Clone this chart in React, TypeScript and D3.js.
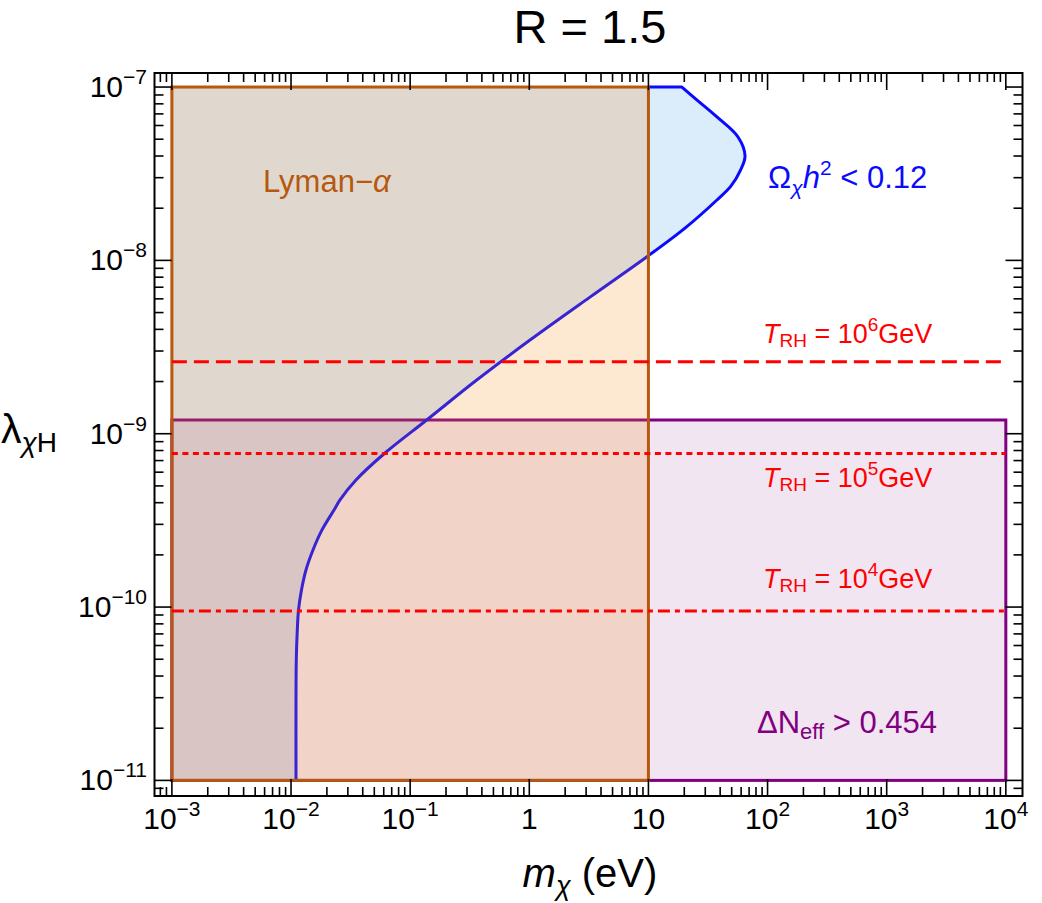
import * as d3 from "d3";

// relic-abundance contour: dark matter mass (eV) vs portal coupling
const relicMass = [
  0.01101, 0.01101, 0.01107, 0.01129, 0.01156, 0.01224, 0.01335, 0.01529,
  0.0182, 0.02296, 0.02577, 0.0351, 0.0615, 0.1377, 0.362, 1.014, 3.23, 9.92,
  20.4, 37.6, 49.4, 59.3, 64.7, 56.5, 37.6, 25.6, 19.1,
];
const relicLambda = [
  1e-11, 2.91e-11, 4.95e-11, 7.38e-11, 9.62e-11, 1.254e-10, 1.636e-10,
  2.134e-10, 2.786e-10, 3.63e-10, 4.15e-10, 5.41e-10, 7.74e-10, 1.2e-9,
  2.04e-9, 3.47e-9, 6.14e-9, 1.06e-8, 1.54e-8, 2.23e-8, 2.69e-8, 3.32e-8,
  4.0e-8, 5.15e-8, 6.72e-8, 8.41e-8, 1e-7,
];

// Lyman-alpha bound box and Delta N_eff box
const lymanMass = [1e-3, 10];
const lymanLambda = [1e-11, 1e-7];
const neffMass = [1e-3, 1e4];
const neffLambda = [1e-11, 1.2e-9];

// reheating temperature lines
const reheatLambda = [2.6e-9, 7.7e-10, 9.5e-11];
const reheatExp = [6, 5, 4];
const reheatDash = ["15,7", "6,4.5", "12,5,5,5"];

const xTickExp = [-3, -2, -1, 0, 1, 2, 3, 4];
const yTickExp = [-7, -8, -9, -10, -11];

const W = 1042;
const H = 903;
const frame = { left: 154.5, right: 1022.5, top: 73, bottom: 796 };

const FONT = "'Liberation Sans', Arial, Helvetica, sans-serif";

export default function App() {
  const x = d3
    .scaleLog()
    .domain([Math.pow(10, -3.146), Math.pow(10, 4.14)])
    .range([frame.left, frame.right]);
  const y = d3
    .scaleLog()
    .domain([Math.pow(10, -11.09), Math.pow(10, -6.919)])
    .range([frame.bottom, frame.top]);

  const pts: [number, number][] = relicMass.map((m, i) => [x(m), y(relicLambda[i])]);
  const curve = d3.line().curve(d3.curveCatmullRom.alpha(0.5))(pts) || "";
  const topEnd: [number, number] = [x(lymanMass[1]), y(lymanLambda[1])];
  const curvePath = curve + `L${topEnd[0]},${topEnd[1]}`;
  // excluded (over-abundant) side of the contour
  const blueFill =
    curvePath +
    `L${x(lymanMass[0])},${y(lymanLambda[1])}L${x(lymanMass[0])},${y(lymanLambda[0])}Z`;

  // minor ticks
  const xMinor: number[] = [];
  for (let k = -4; k <= 4; k++)
    for (let m = 2; m <= 9; m++) {
      const v = m * Math.pow(10, k);
      if (v > x.domain()[0] && v < x.domain()[1]) xMinor.push(v);
    }
  const yMinor: number[] = [];
  for (let k = -12; k <= -7; k++)
    for (let m = 2; m <= 9; m++) {
      const v = m * Math.pow(10, k);
      if (v > y.domain()[0] && v < y.domain()[1]) yMinor.push(v);
    }

  const major = 17;
  const minor = 9;

  const powLabel = (e: number) => {
    if (e === 0) return <tspan>1</tspan>;
    if (e === 1) return <tspan>10</tspan>;
    const s = e < 0 ? "\u2212" + -e : String(e);
    return (
      <>
        <tspan>10</tspan>
        <tspan dy={-13} fontSize={21}>
          {s}
        </tspan>
      </>
    );
  };

  const lx0 = x(lymanMass[0]);
  const lx1 = x(lymanMass[1]);
  const ly0 = y(lymanLambda[1]);
  const ly1 = y(lymanLambda[0]);
  const nx0 = x(neffMass[0]);
  const nx1 = x(neffMass[1]);
  const ny0 = y(neffLambda[1]);
  const ny1 = y(neffLambda[0]);

  const labelY = [343, 487, 588];

  return (
    <div style={{ position: "absolute", left: 0, top: 0 }}>
      <svg width={W} height={H} style={{ display: "block", background: "#fff" }} fontFamily={FONT}>
        {/* shaded regions */}
        <path d={blueFill} fill="rgb(219,236,251)" />
        <rect x={nx0} y={ny0} width={nx1 - nx0} height={ny1 - ny0} fill="rgb(128,0,128)" fillOpacity={0.1} stroke="rgb(128,0,128)" strokeWidth={3} />
        <path d={curvePath} fill="none" stroke="rgb(10,10,255)" strokeWidth={3} strokeLinejoin="round" />
        <rect x={lx0} y={ly0} width={lx1 - lx0} height={ly1 - ly0} fill="rgb(245,140,30)" fillOpacity={0.2} />
        <rect x={lx0} y={ly0} width={lx1 - lx0} height={ly1 - ly0} fill="none" stroke="rgb(182,88,14)" strokeWidth={3} />

        {/* reheating lines */}
        {reheatLambda.map((l, i) => (
          <line key={i} x1={x(neffMass[0])} x2={x(neffMass[1])} y1={y(l)} y2={y(l)} stroke="#ff0000" strokeWidth={3} strokeDasharray={reheatDash[i]} />
        ))}

        {/* frame */}
        <rect x={frame.left} y={frame.top} width={frame.right - frame.left} height={frame.bottom - frame.top} fill="none" stroke="#000" strokeWidth={2} />
        <g stroke="#000" strokeWidth={1.6}>
          {xTickExp.map((e) => {
            const px = x(Math.pow(10, e));
            return (
              <g key={"xm" + e}>
                <line x1={px} x2={px} y1={frame.bottom} y2={frame.bottom - major} />
                <line x1={px} x2={px} y1={frame.top} y2={frame.top + major} />
              </g>
            );
          })}
          {xMinor.map((v, i) => {
            const px = x(v);
            return (
              <g key={"xn" + i}>
                <line x1={px} x2={px} y1={frame.bottom} y2={frame.bottom - minor} />
                <line x1={px} x2={px} y1={frame.top} y2={frame.top + minor} />
              </g>
            );
          })}
          {yTickExp.map((e) => {
            const py = y(Math.pow(10, e));
            return (
              <g key={"ym" + e}>
                <line x1={frame.left} x2={frame.left + major} y1={py} y2={py} />
                <line x1={frame.right} x2={frame.right - major} y1={py} y2={py} />
              </g>
            );
          })}
          {yMinor.map((v, i) => {
            const py = y(v);
            return (
              <g key={"yn" + i}>
                <line x1={frame.left} x2={frame.left + minor} y1={py} y2={py} />
                <line x1={frame.right} x2={frame.right - minor} y1={py} y2={py} />
              </g>
            );
          })}
        </g>

        {/* tick labels */}
        <g fontSize={30} fill="#000">
          {xTickExp.map((e) => (
            <text key={"xl" + e} x={x(Math.pow(10, e))} y={829} textAnchor="middle">
              {powLabel(e)}
            </text>
          ))}
          {yTickExp.map((e) => (
            <text key={"yl" + e} x={147} y={y(Math.pow(10, e)) + 10} textAnchor="end">
              {powLabel(e)}
            </text>
          ))}
        </g>

        {/* title and axis labels */}
        <text x={590} y={43} fontSize={47} textAnchor="middle">
          R = 1.5
        </text>
        <text x={590} y={887} fontSize={40} textAnchor="middle">
          <tspan fontStyle="italic">m</tspan>
          <tspan fontStyle="italic" fontSize={27} dy={8}>χ</tspan>
          <tspan dy={-8}> (eV)</tspan>
        </text>
        <text x={1} y={443} fontSize={41}>
          <tspan>λ</tspan>
          <tspan fontSize={28} dy={9} fontStyle="italic">χ</tspan>
          <tspan fontSize={28}>H</tspan>
        </text>

        {/* region annotations */}
        <text x={263} y={192} fontSize={31} fill="rgb(182,88,14)">
          Lyman−<tspan fontStyle="italic">α</tspan>
        </text>
        <text x={768} y={188} fontSize={31} fill="rgb(10,10,255)">
          <tspan>Ω</tspan>
          <tspan fontSize={21} dy={7} fontStyle="italic">χ</tspan>
          <tspan dy={-7} fontStyle="italic">h</tspan>
          <tspan fontSize={21} dy={-13}>2</tspan>
          <tspan dy={13}> {"<"} 0.12</tspan>
        </text>
        {reheatExp.map((e, i) => (
          <text key={"t" + e} x={763} y={labelY[i]} fontSize={27} fill="#ff0000">
            <tspan fontStyle="italic">T</tspan>
            <tspan fontSize={19} dy={4}>RH</tspan>
            <tspan dy={-4}> = 10</tspan>
            <tspan fontSize={19} dy={-12}>{e}</tspan>
            <tspan dy={12}>GeV</tspan>
          </text>
        ))}
        <text x={757} y={733} fontSize={31} fill="rgb(128,0,128)">
          <tspan>ΔN</tspan>
          <tspan fontSize={22} dy={6}>eff</tspan>
          <tspan dy={-6}> {">"} 0.454</tspan>
        </text>
      </svg>
    </div>
  );
}
